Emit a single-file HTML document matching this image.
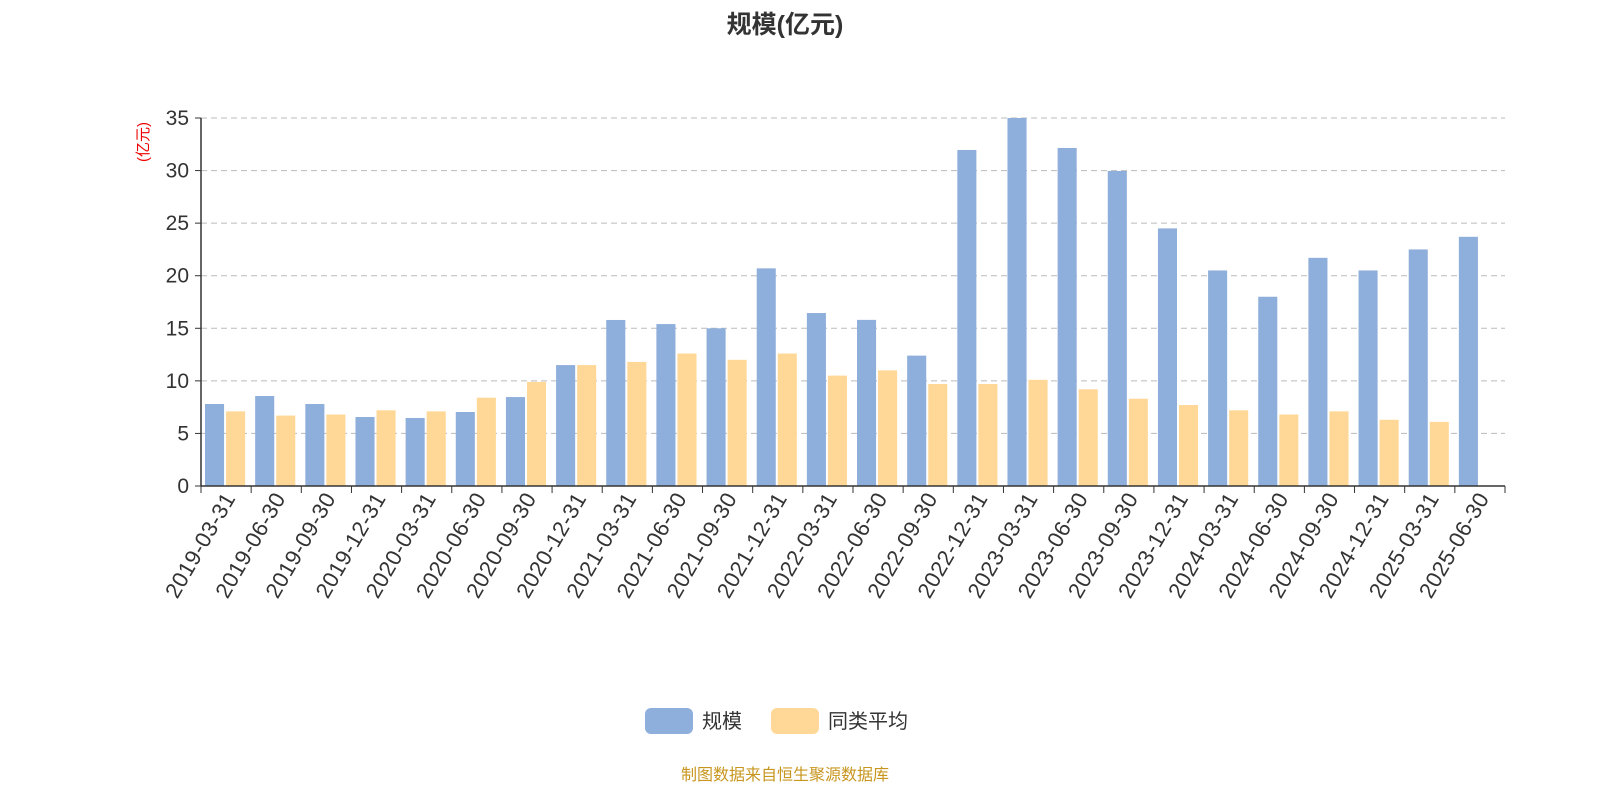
<!DOCTYPE html>
<html><head><meta charset="utf-8"><style>
body{margin:0;background:#fff;}
svg{display:block;font-family:"Liberation Sans","Noto Sans CJK SC",sans-serif;}
</style></head><body>
<svg id="c" width="1600" height="800">
<text x="785" y="33" text-anchor="middle" font-size="25" font-weight="bold" fill="#333">规模(亿元)</text>
<text transform="translate(148,142) rotate(-90)" text-anchor="middle" font-size="15" fill="#e00">(亿元)</text>
<g id="grid"></g><g id="bars"></g><g id="axes"></g>
<g>
<g><rect x="645" y="708" width="48" height="26" rx="6" fill="#8eaedb"/><text x="702" y="728" font-size="20" fill="#333">规模</text></g>
<g><rect x="771" y="708" width="48" height="26" rx="6" fill="#ffd898"/><text x="828" y="728" font-size="20" fill="#333">同类平均</text></g>
</g>
<text x="785" y="780" text-anchor="middle" font-size="16" fill="#c8961e">制图数据来自恒生聚源数据库</text>
</svg>
<script>
const categories=["2019-03-31","2019-06-30","2019-09-30","2019-12-31","2020-03-31","2020-06-30","2020-09-30","2020-12-31","2021-03-31","2021-06-30","2021-09-30","2021-12-31","2022-03-31","2022-06-30","2022-09-30","2022-12-31","2023-03-31","2023-06-30","2023-09-30","2023-12-31","2024-03-31","2024-06-30","2024-09-30","2024-12-31","2025-03-31","2025-06-30"];
const scaleValues=[7.8,8.56,7.8,6.56,6.47,7.04,8.46,11.5,15.79,15.4,15.0,20.7,16.45,15.8,12.4,31.96,35.0,32.15,29.96,24.5,20.5,18.0,21.7,20.5,22.5,23.7];
const avgValues=[7.1,6.7,6.8,7.2,7.1,8.4,9.9,11.5,11.8,12.6,12.0,12.6,10.5,11.0,9.7,9.7,10.1,9.2,8.3,7.7,7.2,6.8,7.1,6.3,6.1,null];
const yTicks=[0,5,10,15,20,25,30,35];
const NS="http://www.w3.org/2000/svg";
const x0=201,x1=1505,y0=486,y1=118,yMax=35;
const band=(x1-x0)/categories.length;
const yS=v=>y0-(v/yMax)*(y0-y1);
function mk(tag,attrs,parent){const e=document.createElementNS(NS,tag);for(const k in attrs)e.setAttribute(k,attrs[k]);parent.appendChild(e);return e;}
const grid=document.getElementById('grid'),bars=document.getElementById('bars'),axes=document.getElementById('axes');
yTicks.forEach(t=>{const y=yS(t);
 if(t>0){const l=mk('line',{x1:x0,x2:x1,y1:y,y2:y,stroke:'#bbb','stroke-dasharray':'6,4'},grid);
 
 }
 mk('line',{x1:x0-6,x2:x0,y1:y,y2:y,stroke:'#333'},axes);
 const tx=mk('text',{x:x0-12,y:y+7,'text-anchor':'end','font-size':21,fill:'#333'},axes);tx.textContent=t;
 
 
});
const bw=band*0.38;
categories.forEach((c,i)=>{const bx=x0+i*band;
 const v=scaleValues[i];
 if(v!=null){const r=mk('rect',{x:bx+band*0.08,y:yS(v),width:bw,height:y0-yS(v),fill:'#8eaedb'},bars);
 
 }
 const a=avgValues[i];
 if(a!=null){const r=mk('rect',{x:bx+band*0.08+bw+2,y:yS(a),width:bw,height:y0-yS(a),fill:'#ffd898'},bars);
 
 }
 mk('line',{x1:bx,x2:bx,y1:y0,y2:y0+7,stroke:'#333'},axes);
 const cx=bx+band/2;
 const t=mk('text',{transform:`translate(${cx+10},${y0+12}) rotate(-60)`,'text-anchor':'end','font-size':22,'letter-spacing':'0.5',fill:'#333'},axes);t.textContent=c;
 
 
});
mk('line',{x1:x1,x2:x1,y1:y0,y2:y0+7,stroke:'#333'},axes);
mk('line',{x1:x0,x2:x1,y1:y0,y2:y0,stroke:'#333','stroke-width':1.5},axes);
mk('line',{x1:x0,x2:x0,y1:y1,y2:y0,stroke:'#333','stroke-width':1.5},axes);
</script>
</body></html>
